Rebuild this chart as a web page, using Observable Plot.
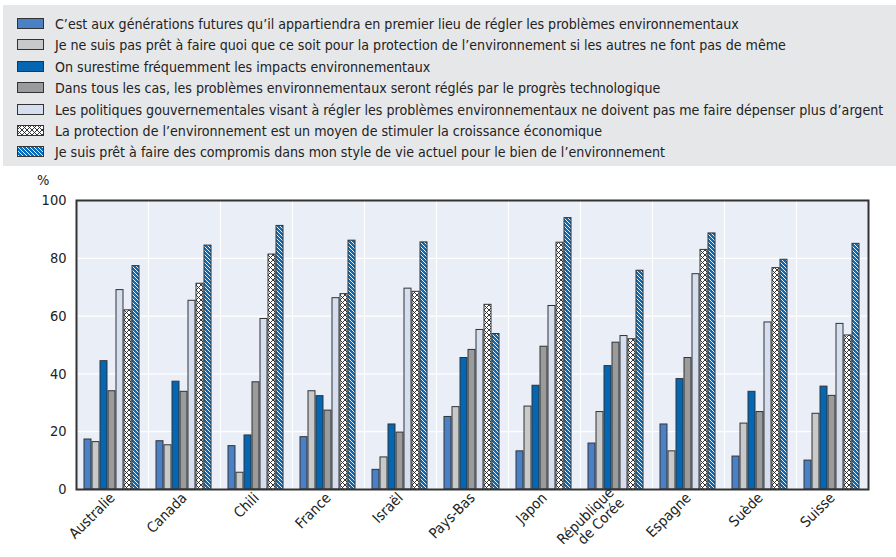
<!DOCTYPE html>
<html>
<head>
<meta charset="utf-8">
<script src="https://cdn.jsdelivr.net/npm/d3@7"></script>
<script src="https://cdn.jsdelivr.net/npm/@observablehq/plot@0.6"></script>
<style>
  body { margin: 0; width: 896px; height: 557px; position: relative; background: #fff; overflow: hidden;
         font-family: "Liberation Sans Narrow", "DejaVu Sans Condensed", "Roboto", sans-serif; color: #222; }
  #legend { position: absolute; left: 3px; top: 5px; width: 893px; height: 161px; background: #e6e7e9; }
  .row { position: absolute; left: 14px; height: 20px; display: flex; align-items: center; font-size: 14.1px; white-space: nowrap; }
  .row svg { margin-right: 11px; flex: none; }
  #pct { position: absolute; left: 37px; top: 172px; font-size: 14.5px; }
  #chart { position: absolute; left: 0; top: 170px; }
</style>
</head>
<body>
<div id="legend"></div>
<div id="pct">%</div>
<div id="chart"></div>
<script>
const countries = ["Australie","Canada","Chili","France","Israël","Pays-Bas","Japon","République\nde Corée","Espagne","Suède","Suisse"];
const seriesLabels = [
  "C’est aux générations futures qu’il appartiendra en premier lieu de régler les problèmes environnementaux",
  "Je ne suis pas prêt à faire quoi que ce soit pour la protection de l’environnement si les autres ne font pas de même",
  "On surestime fréquemment les impacts environnementaux",
  "Dans tous les cas, les problèmes environnementaux seront réglés par le progrès technologique",
  "Les politiques gouvernementales visant à régler les problèmes environnementaux ne doivent pas me faire dépenser plus d’argent",
  "La protection de l’environnement est un moyen de stimuler la croissance économique",
  "Je suis prêt à faire des compromis dans mon style de vie actuel pour le bien de l’environnement"
];
const generationsFutures = [17.3, 16.7, 15.0, 18.1, 6.8, 25.1, 13.2, 15.9, 22.5, 11.4, 10.0];
const pasPret            = [16.4, 15.3, 5.8, 34.0, 11.1, 28.5, 28.7, 26.8, 13.2, 22.8, 26.2];
const surestime          = [44.4, 37.3, 18.7, 32.3, 22.5, 45.5, 35.9, 42.7, 38.2, 33.8, 35.6];
const progresTechno      = [34.0, 33.8, 37.1, 27.3, 19.7, 48.3, 49.4, 50.8, 45.5, 26.8, 32.4];
const politiques         = [69.0, 65.3, 59.0, 66.2, 69.5, 55.2, 63.5, 53.1, 74.5, 57.8, 57.3];
const croissance         = [62.0, 71.2, 81.3, 67.6, 68.4, 63.9, 85.4, 52.0, 82.9, 76.6, 53.3];
const compromis          = [77.3, 84.4, 91.2, 86.1, 85.5, 53.8, 93.9, 75.7, 88.6, 79.5, 85.0];
const yTicks = [0, 20, 40, 60, 80, 100];

const seriesValues = [generationsFutures, pasPret, surestime, progresTechno, politiques, croissance, compromis];
const fills = ["#4a80c4", "#c8c9cb", "#0567b3", "#9a9b9d", "#d5dff0", "url(#hatchX)", "url(#stripes)"];
const seriesKeys = seriesLabels.map((d, i) => "s" + i);

const table = [];
countries.forEach((c, i) => seriesValues.forEach((vals, j) => table.push({country: c, series: seriesKeys[j], value: vals[i]})));

const FONT = '"Liberation Sans Narrow", "DejaVu Sans Condensed", "Roboto", sans-serif';
const defsMarkup = `
  <pattern id="hatchX" patternUnits="userSpaceOnUse" width="5" height="5">
    <rect width="5" height="5" fill="white"/>
    <path d="M0,0L5,5M5,0L0,5M-1,4L1,6M4,-1L6,1M-1,1L1,-1M4,6L6,4" stroke="#222" stroke-width="0.9"/>
  </pattern>
  <pattern id="stripes" patternUnits="userSpaceOnUse" width="4" height="4">
    <rect width="4" height="4" fill="#0a6cb8"/>
    <path d="M-1,-1L5,5M-1,3L1,5M3,-1L5,1" stroke="white" stroke-width="0.9"/>
  </pattern>`;

function addDefs(svg) {
  const ns = "http://www.w3.org/2000/svg";
  const defs = document.createElementNS(ns, "defs");
  defs.innerHTML = defsMarkup;
  svg.insertBefore(defs, svg.firstChild);
}

// legend
const legend = document.getElementById("legend");
const rowTops = [9, 30, 52, 73, 95, 116, 137];
seriesLabels.forEach((label, i) => {
  const row = document.createElement("div");
  row.className = "row";
  row.style.top = rowTops[i] + "px";
  const ns = "http://www.w3.org/2000/svg";
  const sw = document.createElementNS(ns, "svg");
  sw.setAttribute("width", 27); sw.setAttribute("height", 12);
  sw.innerHTML = `<defs>${defsMarkup}</defs><rect x="0.5" y="0.5" width="26" height="10" fill="${fills[i]}" stroke="#333" stroke-width="1"/>`;
  row.appendChild(sw);
  const span = document.createElement("span");
  span.textContent = label;
  row.appendChild(span);
  legend.appendChild(row);
});

function makePlot(useSuper) {
  return Plot.plot({
    width: 896, height: 387,
    marginLeft: 72, marginRight: 24, marginTop: 30, marginBottom: 68,
    style: {background: "transparent", fontFamily: FONT, fontSize: "14.5px", color: "#222", overflow: "visible"},
    facet: {data: table, x: "country"},
    fx: {domain: countries, padding: 0, label: null, tickRotate: -45, tickSize: 0, tickPadding: 6},
    x: {domain: seriesKeys, paddingInner: 0.1, paddingOuter: 0.6, axis: null},
    y: {domain: [0, 100], ticks: yTicks, tickSize: 0, tickPadding: 10, label: null},
    color: {domain: seriesKeys, range: fills},
    marks: [
      Plot.frame({fill: "#e9eef7", stroke: "white", strokeWidth: 1.2}),
      Plot.ruleY(yTicks.filter(d => d > 0 && d < 100), {stroke: "white", strokeWidth: 1.2}),
      Plot.barY(table, {x: "series", y: "value", fill: "series", stroke: "#333", strokeWidth: 1}),
      useSuper ? Plot.frame({facet: "super", stroke: "#333", strokeWidth: 2}) : Plot.ruleY([0], {stroke: "#333", strokeWidth: 2})
    ]
  });
}
let chart;
try { chart = makePlot(true); } catch (e) { chart = makePlot(false); }
const svg = chart.tagName.toLowerCase() === "svg" ? chart : chart.querySelector("svg");
addDefs(svg);
document.getElementById("chart").appendChild(chart);
</script>
</body>
</html>
